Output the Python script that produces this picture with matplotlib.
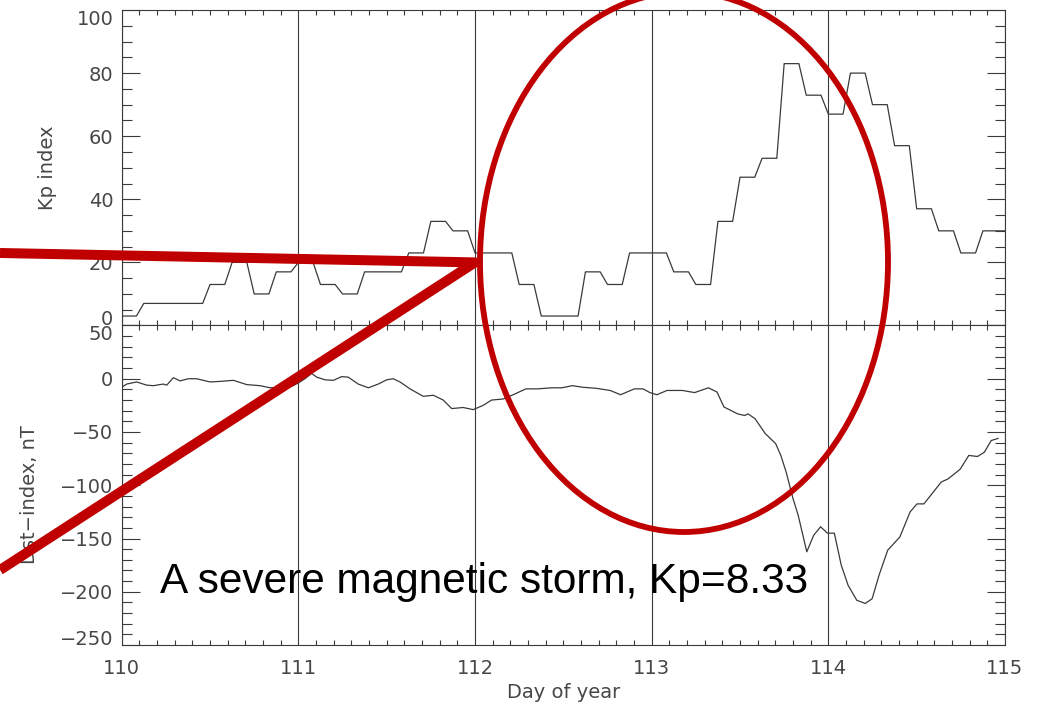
import numpy as np
import matplotlib
matplotlib.use('Agg')
import matplotlib.pyplot as plt
from matplotlib.patches import Ellipse
from matplotlib.ticker import MultipleLocator

# Kp index (x10), one value per 3-hour interval, days 110-114
kp_3h = [3, 7, 7, 7, 13, 20, 10, 17,
         20, 13, 10, 17, 17, 23, 33, 30,
         23, 23, 13, 3, 3, 17, 13, 23,
         23, 17, 13, 33, 47, 53, 83, 73,
         67, 80, 70, 57, 37, 30, 23, 30]

# Dst index, nT
dst_day = [110.000, 110.028, 110.085, 110.141, 110.179, 110.235, 110.255, 110.292,
           110.330, 110.377, 110.424, 110.500, 110.556, 110.632, 110.708, 110.783,
           110.840, 110.896, 110.971, 111.009, 111.037, 111.075, 111.104, 111.151,
           111.198, 111.245, 111.282, 111.339, 111.396, 111.452, 111.500, 111.537,
           111.575, 111.632, 111.707, 111.764, 111.820, 111.868, 111.933, 111.990,
           112.046, 112.094, 112.160, 112.216, 112.288, 112.355, 112.434, 112.492,
           112.551, 112.610, 112.688, 112.765, 112.824, 112.902, 112.951, 112.990,
           113.029, 113.087, 113.175, 113.243, 113.321, 113.370, 113.409, 113.487,
           113.526, 113.546, 113.585, 113.643, 113.702, 113.731, 113.761, 113.800,
           113.829, 113.878, 113.917, 113.956, 113.995, 114.034, 114.073, 114.112,
           114.161, 114.209, 114.248, 114.287, 114.336, 114.405, 114.463, 114.502,
           114.541, 114.639, 114.678, 114.746, 114.795, 114.844, 114.883, 114.922,
           114.961]
dst_nt = [-8, -5, -3, -6, -6.5, -5, -6, 1,
          -2, 0, 0, -3, -2.5, -1.5, -5.5, -6.5,
          -8.5, -8, -6.5, -3, 0, 5, 1.5, -1,
          -1.5, 2, 1.5, -5, -8.5, -5, -1, 0,
          -3, -9.5, -16.5, -15.5, -20, -28, -27, -29,
          -25, -20, -19, -15, -9.5, -9.5, -8.5, -8.5,
          -6.5, -8, -9, -11, -15, -9.5, -9.5, -13,
          -15, -11, -11, -13, -8.5, -12.5, -26.5, -33,
          -34.5, -33, -37.5, -51.5, -61, -72, -87.5, -112.5,
          -128, -162.5, -147, -139, -145, -145, -175, -194,
          -208, -211, -206.5, -184.5, -161, -148.5, -125, -117.5,
          -117.5, -97, -94, -85, -72, -73, -69, -58,
          -56]

day_ticks = [110, 111, 112, 113, 114, 115]
storm_note = 'A severe magnetic storm, Kp=8.33'

# hourly Kp curve: each 3-hour value held for three hourly samples
hours = np.arange(121)
kp_day = 110 + hours / 24.0
kp_hourly = np.array(kp_3h)[np.minimum(hours // 3, len(kp_3h) - 1)]

W, H = 1038, 703
fig = plt.figure(figsize=(W / 100, H / 100), dpi=100)
plt.rcParams['font.family'] = 'DejaVu Sans'

ink = '#3a3a3a'
txt = '#474747'
left, width = 121.7 / W, (1005 - 121.7) / W
ax1 = fig.add_axes([left, 1 - 325.5 / H, width, (325.5 - 10) / H])
ax2 = fig.add_axes([left, 1 - 645 / H, width, (645 - 325.5) / H])

ax1.plot(kp_day, kp_hourly, color=ink, lw=0.9)
ax2.plot(dst_day, dst_nt, color=ink, lw=0.9)

for ax in (ax1, ax2):
    ax.set_xlim(110, 115)
    ax.xaxis.set_major_locator(MultipleLocator(1))
    ax.xaxis.set_minor_locator(MultipleLocator(0.1))
    ax.grid(axis='x', which='major', color=ink, lw=0.8)
    for s in ax.spines.values():
        s.set_color(ink)
        s.set_linewidth(0.8)
    ax.tick_params(which='both', direction='in', top=True, right=True,
                   color=ink, width=0.8, labelcolor=txt, labelsize=14)
    ax.tick_params(axis='x', which='major', length=0, pad=10)
    ax.tick_params(axis='x', which='minor', length=3.6)
    ax.tick_params(axis='y', which='major', length=13, pad=6)
    ax.tick_params(axis='y', which='minor', length=7.2)

ax1.set_ylim(0, 100)
ax1.yaxis.set_major_locator(MultipleLocator(20))
ax1.yaxis.set_minor_locator(MultipleLocator(5))
ax1.tick_params(axis='x', labelbottom=False)
ax1.set_ylabel('Kp index', fontsize=14, color=txt)
ax1.yaxis.set_label_coords((57 - 121.7) / (1005 - 121.7), 0.5)

ax2.set_ylim(-250, 50)
ax2.yaxis.set_major_locator(MultipleLocator(50))
ax2.yaxis.set_minor_locator(MultipleLocator(10))
ax2.set_xticks(day_ticks)
ax2.set_xticklabels([str(d) for d in day_ticks])
ax2.set_ylabel('Dst\u2212index, nT', fontsize=14, color=txt)
ax2.yaxis.set_label_coords((39 - 121.7) / (1005 - 121.7), 0.47)
ax2.set_xlabel('Day of year', fontsize=14, color=txt, labelpad=4)

# keep the end labels of each panel inside the frame
fig.canvas.draw()
t1 = ax1.yaxis.get_major_ticks()
t2 = ax2.yaxis.get_major_ticks()
for tk, loc in zip(t1, ax1.get_yticks()):
    if loc == 100:
        tk.label1.set_va('top')
    elif loc == 0:
        tk.label1.set_va('baseline')
for tk, loc in zip(t2, ax2.get_yticks()):
    if loc == 50:
        tk.label1.set_va('top')
    elif loc == -250:
        tk.label1.set_va('baseline')

# red highlight: pointer lines to Kp at day 112 and an ellipse round the storm
ov = fig.add_axes([0, 0, 1, 1], zorder=10)
ov.set_xlim(0, W)
ov.set_ylim(0, H)
ov.axis('off')
ov.patch.set_visible(False)

tip = ax1.transData.transform((112, 20))
red = '#C00000'
ov.plot([0, tip[0], 0], [H - 253, tip[1], H - 570], color=red, lw=7.2,
        solid_joinstyle='round', solid_capstyle='butt')
ov.add_patch(Ellipse((684, H - 262), 408, 540, fill=False, ec=red, lw=4.2))

fig.text(160 / W, 1 - 593 / H, storm_note, fontsize=30.5, color='black',
         family='Liberation Sans', va='baseline', ha='left', zorder=11)

fig.savefig('out.png', dpi=100)
